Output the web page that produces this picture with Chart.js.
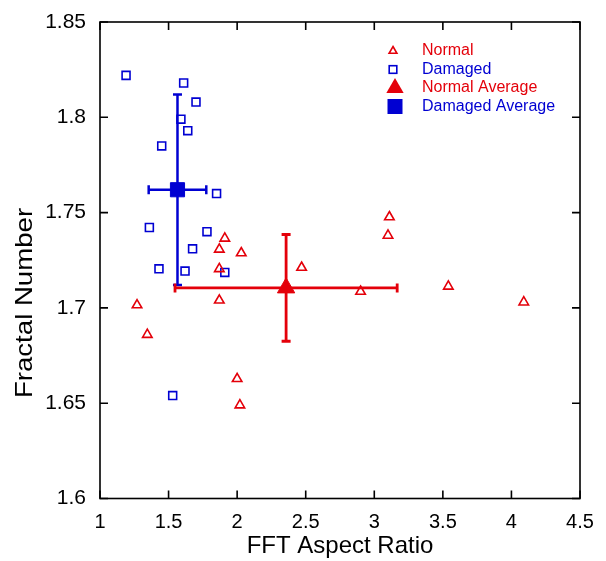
<!DOCTYPE html>
<html>
<head>
<meta charset="utf-8">
<script src="https://cdn.jsdelivr.net/npm/chart.js@4.4.0/dist/chart.umd.min.js"></script>
<style>
  html, body { margin: 0; padding: 0; background: #fff; }
  #wrap { width: 606px; height: 561px; }
</style>
</head>
<body>
<div id="wrap"><canvas id="myChart" width="606" height="561"></canvas></div>
<script>
// data
const normalX = [1.91, 1.87, 2.03, 1.87, 1.87, 1.27, 1.345, 2.00, 2.02, 2.47, 2.90, 3.11, 3.10, 3.54, 4.09];
const normalY = [1.7365, 1.7307, 1.7288, 1.7205, 1.704, 1.7015, 1.686, 1.6628, 1.649, 1.7212, 1.7086, 1.7477, 1.738, 1.7113, 1.703];
const damagedX = [1.19, 1.61, 1.70, 1.59, 1.64, 1.45, 1.85, 1.36, 1.78, 1.675, 1.43, 1.62, 1.91, 1.53];
const damagedY = [1.822, 1.818, 1.808, 1.799, 1.793, 1.785, 1.760, 1.7422, 1.740, 1.731, 1.7205, 1.7193, 1.7186, 1.654];
const normalAvg = [2.357, 1.7105];
const normalErr = [0.81, 0.028];
const damagedAvg = [1.565, 1.762];
const damagedErr = [0.21, 0.05];

const xTicks = [1, 1.5, 2, 2.5, 3, 3.5, 4, 4.5];
const yTicks = [1.6, 1.65, 1.7, 1.75, 1.8, 1.85];

const red = 'rgb(228,0,10)';
const blue = 'rgb(0,0,210)';
const fontFam = '"Liberation Sans", Arial, sans-serif';

const pts = (xs, ys) => xs.map((x, i) => ({ x: x, y: ys[i] }));

function errV(avg, err) {
    return [{ x: avg[0], y: avg[1] - err[1] }, { x: avg[0], y: avg[1] + err[1] }];
}
function errH(avg, err) {
    return [{ x: avg[0] - err[0], y: avg[1] }, { x: avg[0] + err[0], y: avg[1] }];
}

function barSet(data, color, rot, w) {
    return {
        label: '', data: data, showLine: true, borderColor: color, borderWidth: w,
        pointStyle: 'line', pointRadius: 4.5, pointRotation: rot, pointBorderColor: color,
        pointBorderWidth: w, order: 5, isBar: true
    };
}

// inward ticks, frame, y title and legend inside the plot
const extras = {
    id: 'extras',
    afterDraw(chart) {
        const c = chart.ctx, a = chart.chartArea;
        const xs = chart.scales.x, ys = chart.scales.y;
        c.save();
        c.strokeStyle = '#000';
        c.lineWidth = 1.6;
        c.strokeRect(a.left, a.top, a.right - a.left, a.bottom - a.top);
        c.beginPath();
        xTicks.forEach(v => {
            const p = xs.getPixelForValue(v);
            c.moveTo(p, a.bottom); c.lineTo(p, a.bottom - 8);
            c.moveTo(p, a.top); c.lineTo(p, a.top + 8);
        });
        yTicks.forEach(v => {
            const p = ys.getPixelForValue(v);
            c.moveTo(a.left, p); c.lineTo(a.left + 8, p);
            c.moveTo(a.right, p); c.lineTo(a.right - 8, p);
        });
        c.stroke();

        // y axis title
        c.save();
        c.translate(25, 303);
        c.rotate(-Math.PI / 2);
        c.scale(1.15, 1);
        c.font = '24px ' + fontFam;
        c.fillStyle = '#000';
        c.textAlign = 'center';
        c.textBaseline = 'middle';
        c.fillText('Fractal Number', 0, 0);
        c.restore();

        const items = chart.data.datasets.filter(d => !d.isBar);
        c.font = '16px ' + fontFam;
        c.textBaseline = 'middle';
        items.forEach((d, i) => {
            const my = 51 + i * 18.5;
            const big = d.pointRadius > 7;
            const mx = big ? 395 : 393;
            c.strokeStyle = d.pointBorderColor;
            c.fillStyle = d.pointBorderColor;
            c.lineWidth = 1.6;
            if (d.pointStyle === 'triangle') {
                const r = big ? 10 : 4.5;
                c.beginPath();
                c.moveTo(mx, my - r);
                c.lineTo(mx + r * 0.866, my + r * 0.5);
                c.lineTo(mx - r * 0.866, my + r * 0.5);
                c.closePath();
                if (big) c.fill(); else c.stroke();
            } else {
                const s = big ? 7.5 : 3.8;
                if (big) c.fillRect(mx - s, my - s, 2 * s, 2 * s);
                else c.strokeRect(mx - s, my - s, 2 * s, 2 * s);
            }
            c.fillText(d.label, 422, my);
        });
        c.restore();
    }
};

const ctx = document.getElementById('myChart').getContext('2d');

const myChart = new Chart(ctx, {
    type: 'scatter',
    data: {
        datasets: [
            {
                label: 'Normal', data: pts(normalX, normalY), pointStyle: 'triangle',
                pointRadius: 5.5, pointBorderWidth: 1.6, pointBorderColor: red,
                pointBackgroundColor: 'rgba(0,0,0,0)', order: 1
            },
            {
                label: 'Damaged', data: pts(damagedX, damagedY), pointStyle: 'rect',
                pointRadius: 5.6, pointBorderWidth: 1.6, pointBorderColor: blue,
                pointBackgroundColor: 'rgba(0,0,0,0)', order: 1
            },
            {
                label: 'Normal Average', data: [{ x: normalAvg[0], y: normalAvg[1] }], pointStyle: 'triangle',
                pointRadius: 10, pointBorderWidth: 1, pointBorderColor: red,
                pointBackgroundColor: red, order: 0
            },
            {
                label: 'Damaged Average', data: [{ x: damagedAvg[0], y: damagedAvg[1] }], pointStyle: 'rect',
                pointRadius: 10, pointBorderWidth: 1, pointBorderColor: blue,
                pointBackgroundColor: blue, order: 0
            },
            barSet(errV(normalAvg, normalErr), red, 0, 2.8),
            barSet(errH(normalAvg, normalErr), red, 90, 2.8),
            barSet(errV(damagedAvg, damagedErr), blue, 0, 2.5),
            barSet(errH(damagedAvg, damagedErr), blue, 90, 2.5)
        ]
    },
    options: {
        responsive: false,
        animation: false,
        layout: { padding: { left: 0, right: 26, top: 22, bottom: 0 } },
        plugins: {
            legend: { display: false },
            tooltip: { enabled: false }
        },
        scales: {
            x: {
                type: 'linear', min: 1, max: 4.5,
                afterBuildTicks: s => { s.ticks = xTicks.map(v => ({ value: v })); },
                afterFit: s => { s.height = 62.5; },
                grid: { display: false },
                border: { display: false },
                ticks: {
                    color: '#000', font: { size: 20, family: fontFam }, padding: 4,
                    callback: v => String(+v.toFixed(2))
                },
                title: {
                    display: true, text: 'FFT Aspect Ratio', color: '#000',
                    font: { size: 24, family: fontFam },
                    padding: { top: 0, bottom: 0 }
                }
            },
            y: {
                type: 'linear', min: 1.6, max: 1.85,
                afterBuildTicks: s => { s.ticks = yTicks.map(v => ({ value: v })); },
                afterFit: s => { s.width = 100; },
                grid: { display: false },
                border: { display: false },
                ticks: {
                    color: '#000', font: { size: 21, family: fontFam }, padding: 6,
                    callback: v => String(+v.toFixed(2))
                }
            }
        }
    },
    plugins: [extras]
});
</script>
</body>
</html>
